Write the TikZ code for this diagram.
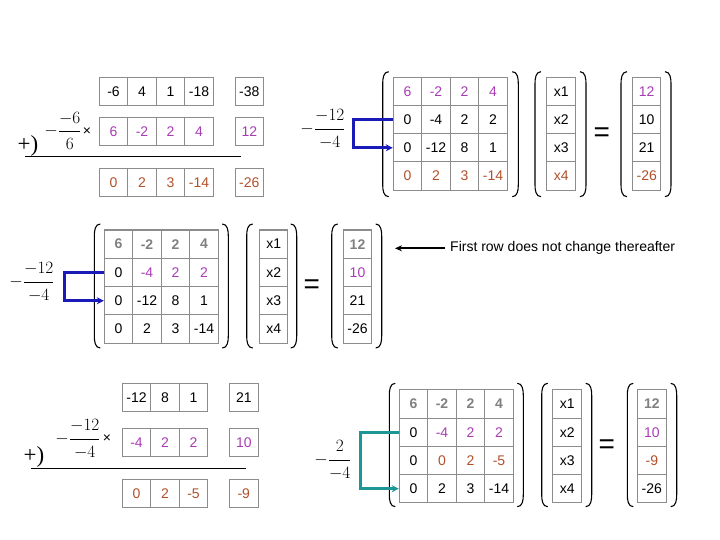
\documentclass[tikz,border=0pt]{standalone}
\usepackage{amsmath}
\usepackage{fontspec}
\setmainfont{Liberation Serif}
\newfontfamily\cellfont{Liberation Sans}
\usetikzlibrary{arrows.meta}

\definecolor{pivotColour}{HTML}{A83CB4}
\definecolor{resultColour}{HTML}{B0502A}
\definecolor{fixedColour}{HTML}{808080}
\definecolor{borderColour}{HTML}{8C8C8C}
\definecolor{arrowBlue}{HTML}{1A1AB8}
\definecolor{arrowTeal}{HTML}{1E9696}

% left x, right x, top y, bottom y
\newcommand{\bigparens}[4]{%
  \draw[parenline] (#1+6,#3) to[out=180,in=90] (#1,#3+12) -- (#1,#4-12) to[out=-90,in=180] (#1+6,#4);
  \draw[parenline] (#2-6,#3) to[out=0,in=90] (#2,#3+12) -- (#2,#4-12) to[out=-90,in=0] (#2-6,#4);}
% multiplier fraction with a little more room
\newcommand{\mfrac}[2]{-\dfrac{\raisebox{1pt}{$#1$}}{\raisebox{-2pt}{$#2$}}}

\begin{document}
\begin{tikzpicture}[x=1pt, y=-1pt,
    cell/.style={draw=borderColour, line width=1pt, minimum width=28.5pt, minimum height=28.3pt,
        inner sep=0pt, font=\cellfont\fontsize{14}{14}\selectfont},
    plain/.style={},
    pivot/.style={text=pivotColour},
    result/.style={text=resultColour},
    fixed/.style={text=fixedColour, font=\cellfont\bfseries\fontsize{14}{14}\selectfont},
    frac/.style={inner sep=0pt, font=\fontsize{18}{18}\selectfont},
    timessign/.style={inner sep=0pt, font=\cellfont\fontsize{14}{14}\selectfont},
    plusparen/.style={inner sep=0pt, font=\fontsize{23}{23}\selectfont},
    equals/.style={inner sep=0pt, font=\cellfont\fontsize{28}{28}\selectfont},
    parenline/.style={black, line width=1.1pt},
    sumline/.style={black, line width=1.4pt},
    rowarrow/.style={line width=3pt, -{Stealth[length=7pt,width=7pt]}},
    note/.style={inner xsep=5pt, inner ysep=0pt, font=\cellfont\fontsize{14}{14}\selectfont},
    notearrow/.style={black, line width=2pt, -{Stealth[length=7pt,width=6pt]}}]

    \useasboundingbox (0,0) rectangle (720,540);

    % Step 1: eliminate the first column with row 1
    \foreach \v [count=\c] in {-6,4,1,-18}
        \node[cell] (a1\c) at ({85.05+28.5*\c},91.2) {\v};
    \foreach \v [count=\c] in {6,-2,2,4}
        \node[cell,pivot] (a2\c) at ({85.05+28.5*\c},131.5) {\v};
    \foreach \v [count=\c] in {0,2,3,-14}
        \node[cell,result] (a3\c) at ({85.05+28.5*\c},182.5) {\v};
    \node[cell] (a1r) at (249.3,91.2) {-38};
    \node[cell,pivot] (a2r) at (249.3,131.5) {12};
    \node[cell,result] (a3r) at (249.3,182.5) {-26};
    \node[frac] (afrac) at (63,131) {$\mfrac{-6}{6}$};
    \node[timessign] (atimes) at (87,131.7) {×};
    \node[plusparen] (aplus) at (28,146) {+)};
    \draw[sumline] (25,156.7) -- (240.7,156.7);

    % Step 1: system after elimination
    \foreach \entries [count=\r] in {{6/pivot,-2/pivot,2/pivot,4/pivot},{0/plain,-4/plain,2/plain,2/plain},
            {0/plain,-12/plain,8/plain,1/plain},{0/result,2/result,3/result,-14/result}}
        \foreach \v/\s [count=\c] in \entries
            \node[cell,\s] (b\r\c) at ({379.05+28.5*\c},{63.2+28.2*\r}) {\v};
    \foreach \v/\s [count=\r] in {x1/plain,x2/plain,x3/plain,x4/result}
        \node[cell,\s] (bx\r) at (561.2,{63.2+28.2*\r}) {\v};
    \foreach \v/\s [count=\r] in {12/pivot,10/plain,21/plain,-26/result}
        \node[cell,\s] (bv\r) at (646.7,{63.2+28.2*\r}) {\v};
    \bigparens{382.7}{518.3}{71.7}{196.7}
    \bigparens{535}{586}{71.7}{196.7}
    \bigparens{621}{671}{71.7}{196.7}
    \node[equals] (beq) at (601.7,135) {=};
    \node[frac] (bfrac) at (323,129) {$\mfrac{-12}{-4}$};
    \draw[rowarrow, draw=arrowBlue] (b21.west) -- ++(-39.3,0) |- (b31.west);

    % Step 2: row 2 becomes the pivot
    \foreach \entries [count=\r] in {{6/fixed,-2/fixed,2/fixed,4/fixed},{0/plain,-4/pivot,2/pivot,2/pivot},
            {0/plain,-12/plain,8/plain,1/plain},{0/plain,2/plain,3/plain,-14/plain}}
        \foreach \v/\s [count=\c] in \entries
            \node[cell,\s] (c\r\c) at ({90.05+28.5*\c},{215.85+28.3*\r}) {\v};
    \foreach \v [count=\r] in {x1,x2,x3,x4}
        \node[cell] (cx\r) at (273.7,{215.85+28.3*\r}) {\v};
    \foreach \v/\s [count=\r] in {12/fixed,10/pivot,21/plain,-26/plain}
        \node[cell,\s] (cv\r) at (357.5,{215.85+28.3*\r}) {\v};
    \bigparens{94.3}{228.3}{224}{348}
    \bigparens{246.7}{296.7}{224}{348}
    \bigparens{331.7}{381.7}{224}{348}
    \node[equals] (ceq) at (311.7,286.7) {=};
    \node[frac] (cfrac) at (32,282) {$\mfrac{-12}{-4}$};
    \draw[rowarrow, draw=arrowBlue] (c21.west) -- ++(-39.3,0) |- (c31.west);

    \node[note, anchor=west] (note) at (445,248.3) {First row does not change thereafter};
    \coordinate (notetip) at (395,248.3);
    \draw[notearrow] (note.west) -- (notetip);

    % Step 2: eliminate row 3 with row 2
    \foreach \v [count=\c] in {-12,8,1}
        \node[cell] (d1\c) at ({108.05+28.5*\c},397.5) {\v};
    \foreach \v [count=\c] in {-4,2,2}
        \node[cell,pivot] (d2\c) at ({108.05+28.5*\c},442.8) {\v};
    \foreach \v [count=\c] in {0,2,-5}
        \node[cell,result] (d3\c) at ({108.05+28.5*\c},493.8) {\v};
    \node[cell] (d1r) at (243.8,397.5) {21};
    \node[cell,pivot] (d2r) at (243.8,442.8) {10};
    \node[cell,result] (d3r) at (243.8,493.8) {-9};
    \node[frac] (dfrac) at (78,439) {$\mfrac{-12}{-4}$};
    \node[timessign] (dtimes) at (107,439) {×};
    \node[plusparen] (dplus) at (34,457) {+)};
    \draw[sumline] (31,468.3) -- (246,468.3);

    % Step 2: system after elimination, row 4 next
    \foreach \entries [count=\r] in {{6/fixed,-2/fixed,2/fixed,4/fixed},{0/plain,-4/pivot,2/pivot,2/pivot},
            {0/plain,0/result,2/result,-5/result},{0/plain,2/plain,3/plain,-14/plain}}
        \foreach \v/\s [count=\c] in \entries
            \node[cell,\s] (e\r\c) at ({385.05+28.5*\c},{375.9+28.2*\r}) {\v};
    \foreach \v [count=\r] in {x1,x2,x3,x4}
        \node[cell] (ex\r) at (567.2,{375.9+28.2*\r}) {\v};
    \foreach \v/\s [count=\r] in {12/fixed,10/pivot,-9/result,-26/plain}
        \node[cell,\s] (ev\r) at (651.85,{375.9+28.2*\r}) {\v};
    \bigparens{389.3}{523.3}{383.3}{506.7}
    \bigparens{541.7}{591.7}{383.3}{506.7}
    \bigparens{627.3}{676.7}{383.3}{506.7}
    \node[equals] (eeq) at (606.7,446.7) {=};
    \node[frac] (efrac) at (333,460) {$\mfrac{2}{-4}$};
    \draw[rowarrow, draw=arrowTeal] (e21.west) -- ++(-38.6,0) |- (e41.west);

\end{tikzpicture}
\end{document}
